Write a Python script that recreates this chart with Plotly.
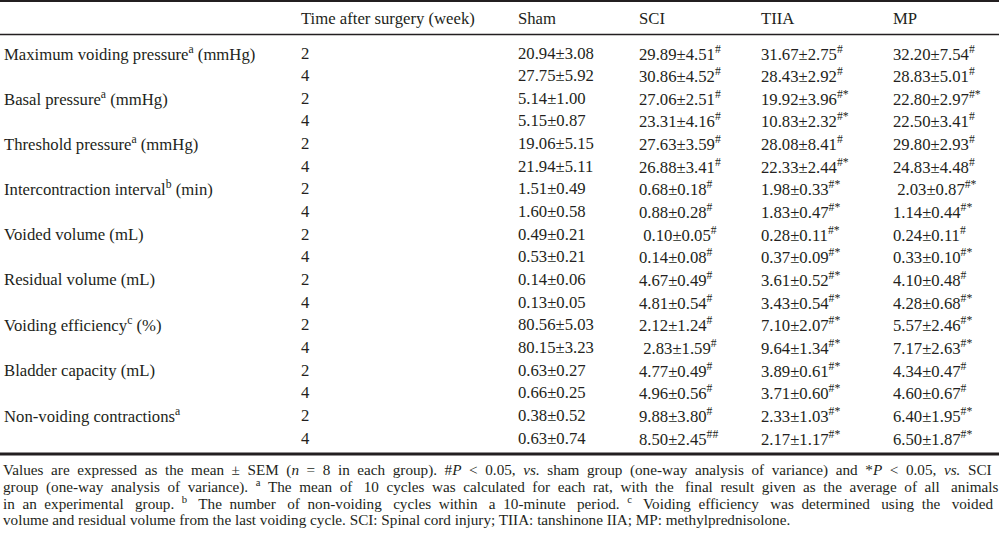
import plotly.graph_objects as go

# ---------------- data ----------------
params = ["Maximum voiding pressure", "Basal pressure", "Threshold pressure",
          "Intercontraction interval", "Voided volume", "Residual volume",
          "Voiding efficiency", "Bladder capacity", "Non-voiding contractions"]
param_notes = ["a", "a", "a", "b", "", "", "c", "", "a"]
param_units = ["(mmHg)", "(mmHg)", "(mmHg)", "(min)", "(mL)", "(mL)", "(%)", "(mL)", ""]
weeks = [2, 4]
headers = ["", "Time after surgery (week)", "Sham", "SCI", "TIIA", "MP"]

sham_mean = [20.94, 27.75, 5.14, 5.15, 19.06, 21.94, 1.51, 1.60, 0.49, 0.53,
             0.14, 0.13, 80.56, 80.15, 0.63, 0.66, 0.38, 0.63]
sham_sem = [3.08, 5.92, 1.00, 0.87, 5.15, 5.11, 0.49, 0.58, 0.21, 0.21,
            0.06, 0.05, 5.03, 3.23, 0.27, 0.25, 0.52, 0.74]
sham_sig = [""] * 18

sci_mean = [29.89, 30.86, 27.06, 23.31, 27.63, 26.88, 0.68, 0.88, 0.10, 0.14,
            4.67, 4.81, 2.12, 2.83, 4.77, 4.96, 9.88, 8.50]
sci_sem = [4.51, 4.52, 2.51, 4.16, 3.59, 3.41, 0.18, 0.28, 0.05, 0.08,
           0.49, 0.54, 1.24, 1.59, 0.49, 0.56, 3.80, 2.45]
sci_sig = ["#"] * 17 + ["##"]

tiia_mean = [31.67, 28.43, 19.92, 10.83, 28.08, 22.33, 1.98, 1.83, 0.28, 0.37,
             3.61, 3.43, 7.10, 9.64, 3.89, 3.71, 2.33, 2.17]
tiia_sem = [2.75, 2.92, 3.96, 2.32, 8.41, 2.44, 0.33, 0.47, 0.11, 0.09,
            0.52, 0.54, 2.07, 1.34, 0.61, 0.60, 1.03, 1.17]
tiia_sig = ["#", "#", "#*", "#*", "#", "#*", "#*", "#*", "#*", "#*",
            "#*", "#*", "#*", "#*", "#*", "#*", "#*", "#*"]

mp_mean = [32.20, 28.83, 22.80, 22.50, 29.80, 24.83, 2.03, 1.14, 0.24, 0.33,
           4.10, 4.28, 5.57, 7.17, 4.34, 4.60, 6.40, 6.50]
mp_sem = [7.54, 5.01, 2.97, 3.41, 2.93, 4.48, 0.87, 0.44, 0.11, 0.10,
          0.48, 0.68, 2.46, 2.63, 0.47, 0.67, 1.95, 1.87]
mp_sig = ["#", "#", "#*", "#", "#", "#", "#*", "#*", "#", "#*",
          "#", "#*", "#*", "#*", "#", "#", "#*", "#*"]

footnotes = [
    "Values are expressed as the mean ± SEM (<i>n</i> = 8 in each group). #<i>P</i> &lt; 0.05, <i>vs.</i> sham group (one-way analysis of variance) and *<i>P</i> &lt; 0.05, <i>vs.</i> SCI",
    "group (one-way analysis of variance). <sup>a</sup> The mean of 10 cycles was calculated for each rat, with the final result given as the average of all animals",
    "in an experimental group. <sup>b</sup> The number of non-voiding cycles within a 10-minute period. <sup>c</sup> Voiding efficiency was determined using the voided",
    "volume and residual volume from the last voiding cycle. SCI: Spinal cord injury; TIIA: tanshinone IIA; MP: methylprednisolone.",
]

# ---------------- layout / style ----------------
W, H = 999, 541
col_x = [2, 299, 516, 637, 759, 891]
header_y = 18
row0_y = 53
row_step = 22.65
foot_y0 = 470
foot_step = 16.4
FONT = "Liberation Serif"
COLOR = "#231f20"
FS = 16.7
FOOT_FS = 15.2
# imitation of the justified footnote lines: (justify?, number of extra-wide gaps)
foot_justify = [(True, 0), (True, 3), (True, 10), (False, 0)]
indent = {(3, 8), (3, 13), (5, 6)}  # (column, row) cells set slightly in


def justify(line, on, wide):
    if not on:
        return line
    words = line.split(" ")
    n = len(words) - 1
    out = words[0]
    for j in range(n):
        gap = "\u2002"
        if (j + 1) * wide // n > j * wide // n:
            gap = "\u2002 "
        out += gap + words[j + 1]
    return out


fig = go.Figure()
fig.add_trace(go.Scatter(x=[0, W], y=[0, H], mode="markers",
                         marker=dict(opacity=0), hoverinfo="skip", showlegend=False))

ann = []


def add(x, y, text, size=FS):
    ann.append(dict(x=x, y=y, xref="x", yref="y", text=text, showarrow=False,
                    xanchor="left", yanchor="middle", align="left",
                    font=dict(family=FONT, size=size, color=COLOR)))


for c, h in enumerate(headers):
    if h:
        add(col_x[c], header_y, h)

groups = [(sham_mean, sham_sem, sham_sig), (sci_mean, sci_sem, sci_sig),
          (tiia_mean, tiia_sem, tiia_sig), (mp_mean, mp_sem, mp_sig)]

for p, name in enumerate(params):
    label = name
    if param_notes[p]:
        label += "<sup>" + param_notes[p] + "</sup>"
    if param_units[p]:
        label += " " + param_units[p]
    add(col_x[0], row0_y + 2 * p * row_step, label)
    for k, wk in enumerate(weeks):
        r = 2 * p + k
        y = row0_y + r * row_step
        add(col_x[1], y, str(wk))
        for g, (m, s, sig) in enumerate(groups):
            txt = f"{m[r]:.2f}±{s[r]:.2f}"
            if sig[r]:
                txt += "<sup>" + sig[r] + "</sup>"
            if (g + 2, r) in indent:
                txt = "\u00a0" + txt
            add(col_x[g + 2], y, txt)

for i, line in enumerate(footnotes):
    on, wide = foot_justify[i]
    add(1, foot_y0 + i * foot_step, justify(line, on, wide), FOOT_FS)

shapes = [
    dict(type="line", xref="x", yref="y", x0=0, x1=W, y0=1, y1=1,
         line=dict(color=COLOR, width=2)),
    dict(type="line", xref="x", yref="y", x0=0, x1=W, y0=34.5, y1=34.5,
         line=dict(color=COLOR, width=1.5)),
    dict(type="line", xref="x", yref="y", x0=0, x1=W, y0=454, y1=454,
         line=dict(color=COLOR, width=3)),
]

fig.update_layout(
    width=W, height=H, margin=dict(l=0, r=0, t=0, b=0),
    paper_bgcolor="white", plot_bgcolor="white",
    xaxis=dict(range=[0, W], visible=False, fixedrange=True),
    yaxis=dict(range=[H, 0], visible=False, fixedrange=True),
    annotations=ann, shapes=shapes, showlegend=False,
)

fig.write_html("out.html", config={"displayModeBar": False},
               post_script="document.body.style.margin='0';document.body.style.overflow='hidden';")
